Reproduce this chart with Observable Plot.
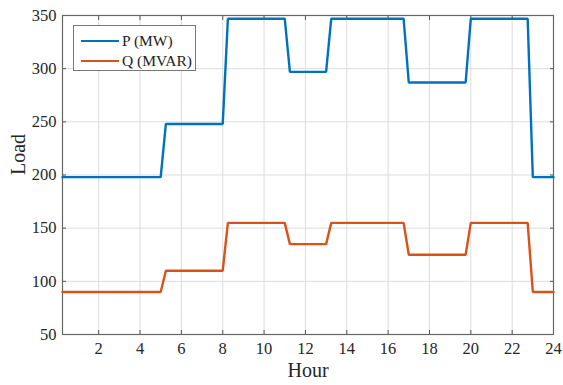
<!DOCTYPE html>
<html>
<head>
<meta charset="utf-8">
<script src="https://cdn.jsdelivr.net/npm/d3@7"></script>
<script src="https://cdn.jsdelivr.net/npm/@observablehq/plot@0.6"></script>
<style>
  html, body { margin: 0; padding: 0; background: #fff; }
  #wrap { position: relative; width: 563px; height: 385px; }
  #wrap svg text { font-family: "Liberation Serif", "DejaVu Serif", serif; }
  #legend {
    position: absolute; left: 73px; top: 25px; width: 121px; height: 44px;
    border: 1px solid #777; background: #fff;
    font-family: "Liberation Serif", "DejaVu Serif", serif; font-size: 15.5px; color: #222;
  }
  #legend .row { position: absolute; left: 0; height: 20px; display: flex; align-items: center; }
  #legend .sw { width: 38px; height: 2.4px; margin-left: 7px; margin-right: 3px; }
</style>
</head>
<body>
<div id="wrap"></div>
<script>
// Load profile breakpoints (hour of day) and demand levels
const hours = [0.25, 5, 5.25, 8, 8.25, 11, 11.25, 13, 13.25, 16.75, 17, 19.75, 20, 22.75, 23, 24];
const pMW   = [198, 198, 248, 248, 347, 347, 297, 297, 347, 347, 287, 287, 347, 347, 198, 198];
const qMVAR = [90, 90, 110, 110, 155, 155, 135, 135, 155, 155, 125, 125, 155, 155, 90, 90];

const seriesNames = ["P (MW)", "Q (MVAR)"];
const seriesColors = ["#0072BD", "#D95319"];
const xTicks = [2, 4, 6, 8, 10, 12, 14, 16, 18, 20, 22, 24];
const yTicks = [50, 100, 150, 200, 250, 300, 350];

const rows = [];
hours.forEach((h, i) => {
  rows.push({hour: h, load: pMW[i], series: seriesNames[0]});
  rows.push({hour: h, load: qMVAR[i], series: seriesNames[1]});
});

const font = `"Liberation Serif", "DejaVu Serif", serif`;

const chart = Plot.plot({
  width: 563,
  height: 385,
  marginLeft: 62,
  marginRight: 10,
  marginTop: 15,
  marginBottom: 51,
  style: {fontFamily: font, fontSize: "16.5px", color: "#262626", background: "#fff"},
  x: {domain: [0.25, 24]},
  y: {domain: [50, 350]},
  color: {domain: seriesNames, range: seriesColors},
  marks: [
    Plot.gridX(xTicks, {stroke: "#dcdcdc", strokeOpacity: 1, strokeWidth: 1}),
    Plot.gridY(yTicks, {stroke: "#dcdcdc", strokeOpacity: 1, strokeWidth: 1}),
    Plot.axisX(xTicks, {anchor: "bottom", tickSize: -4, tickPadding: 12, stroke: "#555", label: null, fontFamily: font, fontSize: 16.5, fontVariant: "normal"}),
    Plot.axisX(xTicks, {anchor: "top", tickSize: -4, tickFormat: () => "", stroke: "#555", label: null}),
    Plot.axisY(yTicks, {anchor: "left", tickSize: -4, tickPadding: 10, stroke: "#555", label: null, fontFamily: font, fontSize: 16.5, fontVariant: "normal"}),
    Plot.axisY(yTicks, {anchor: "right", tickSize: -4, tickFormat: () => "", stroke: "#555", label: null}),
    Plot.frame({stroke: "#666", strokeWidth: 1.2}),
    Plot.line(rows, {x: "hour", y: "load", z: "series", stroke: "series", strokeWidth: 2.4, strokeLinejoin: "miter"}),
    Plot.text(["Hour"], {frameAnchor: "bottom", dy: 42, fontSize: 20, fontFamily: font, fill: "#262626"}),
    Plot.text(["Load"], {frameAnchor: "left", dx: -44, rotate: -90, fontSize: 20, fontFamily: font, fill: "#262626"})
  ]
});

const wrap = document.getElementById("wrap");
wrap.appendChild(chart);

// Legend box in the upper-left corner of the plot area
const legend = document.createElement("div");
legend.id = "legend";
seriesNames.forEach((name, i) => {
  const row = document.createElement("div");
  row.className = "row";
  row.style.top = (5 + i * 20) + "px";
  const sw = document.createElement("div");
  sw.className = "sw";
  sw.style.background = seriesColors[i];
  const label = document.createElement("span");
  label.textContent = name;
  row.appendChild(sw);
  row.appendChild(label);
  legend.appendChild(row);
});
wrap.appendChild(legend);
</script>
</body>
</html>
